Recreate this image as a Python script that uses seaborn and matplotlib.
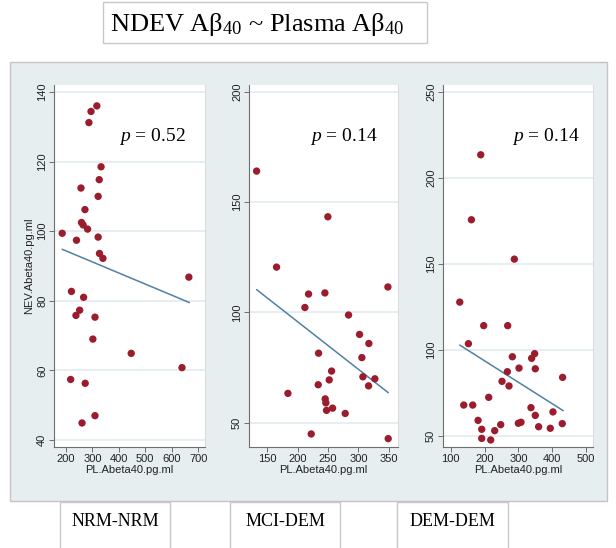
import numpy as np
import pandas as pd
import seaborn as sns
import matplotlib.pyplot as plt
from matplotlib.patches import Rectangle

# NRM-NRM
nrm_x = [317, 295, 287, 333, 326, 257, 322, 272, 259, 265, 282, 186, 240, 322, 327,
         340, 665, 221, 267, 252, 238, 310, 302, 447, 639, 218, 273, 310, 261]
nrm_y = [136.0, 134.4, 131.2, 118.5, 114.8, 112.4, 110.0, 106.2, 102.5, 101.8, 100.6, 99.4,
         97.4, 98.3, 93.6, 92.2, 86.8, 82.7, 81.0, 77.3, 75.8, 75.3, 69.0, 64.9, 60.8,
         57.4, 56.3, 47.0, 44.9]
nrm_fit_x = [186, 667]
nrm_fit_y = [94.8, 79.5]

# MCI-DEM
mci_x = [132.5, 249.7, 165.3, 348.4, 217.9, 244.8, 211.9, 283.7, 301.8, 317.1, 234.4, 305.6,
         255.8, 307.3, 327.0, 251.9, 233.8, 316.6, 184.0, 245.3, 246.4, 257.4, 247.5, 278.2,
         222.3, 348.9]
mci_y = [164.0, 143.3, 120.5, 111.5, 108.3, 108.8, 102.2, 98.8, 90.0, 85.9, 81.5, 79.5,
         73.4, 70.8, 69.9, 69.4, 67.2, 66.7, 63.3, 60.8, 59.0, 56.6, 55.6, 54.2, 44.9, 42.8]
mci_fit_x = [132.5, 349]
mci_fit_y = [110.3, 63.6]

# DEM-DEM
dem_x = [188.7, 161.1, 288.2, 126.6, 197.5, 268.5, 152.2, 282.3, 348.3, 339.4, 302.0, 350.2,
         267.5, 431.0, 251.7, 272.4, 212.3, 138.4, 165.0, 337.4, 402.5, 350.2, 300.0, 307.9,
         430.0, 247.8, 180.8, 360.1, 394.6, 191.6, 230.0, 191.6, 218.2]
dem_y = [213.4, 175.6, 152.7, 127.7, 114.0, 114.0, 103.5, 95.9, 97.7, 95.0, 89.3, 88.9,
         87.2, 83.9, 81.6, 78.9, 72.3, 67.8, 67.8, 66.3, 63.8, 61.8, 57.2, 57.8, 57.0,
         56.4, 58.9, 55.2, 54.3, 53.7, 52.9, 48.4, 47.5]
dem_fit_x = [126.6, 433]
dem_fit_y = [102.7, 64.5]

groups = ["NRM-NRM", "MCI-DEM", "DEM-DEM"]
p_values = ["0.52", "0.14", "0.14"]

sns.set_style("white")
plt.rcParams['font.family'] = ['Liberation Sans', 'DejaVu Sans']
plt.rcParams['mathtext.fontset'] = 'custom'
plt.rcParams['mathtext.rm'] = 'Liberation Serif'
plt.rcParams['mathtext.it'] = 'Liberation Serif:italic'

W, H = 616, 548
fig = plt.figure(figsize=(W / 100, H / 100), dpi=100)

def fx(px):
    return px / W

def fy(py):
    return 1 - py / H

def box(x0, y0, x1, y1, fc, ec):
    fig.patches.append(Rectangle((fx(x0), fy(y1)), (x1 - x0) / W, (y1 - y0) / H,
                                 transform=fig.transFigure, facecolor=fc, edgecolor=ec,
                                 lw=1, zorder=-1))

# outer graph region
box(10, 62, 607, 501, "#e6eef0", "#c4c4c4")
# title box
box(103, 2, 427, 43, "white", "#c8c8c8")
fig.text(fx(257), fy(25), r"NDEV A$\mathrm{\beta}_{40}$ ~ Plasma A$\mathrm{\beta}_{40}$",
         family="Liberation Serif", fontsize=19, color="black", ha="center", va="center")

panels = [
    (nrm_x, nrm_y, nrm_fit_x, nrm_fit_y, 54, 205, (155, 726), (38, 142),
     range(200, 701, 100), range(40, 141, 20), 0.649),
    (mci_x, mci_y, mci_fit_x, mci_fit_y, 249, 398, (120, 365), (39, 203),
     range(150, 351, 50), range(50, 201, 50), 0.638),
    (dem_x, dem_y, dem_fit_x, dem_fit_y, 443, 593, (77, 521), (43.4, 254),
     range(100, 501, 100), range(50, 251, 50), 0.685),
]

box_x = [(60, 170), (230, 340), (397, 508)]

for i, (x, y, fxs, fys, left, right, xlim, ylim, xt, yt, px) in enumerate(panels):
    ax = fig.add_axes([fx(left), fy(447), (right - left) / W, (447 - 85) / H])
    ax.set_zorder(1)
    ax.set_facecolor("white")
    ax.set_yticks(list(yt))
    ax.set_xticks(list(xt))
    ax.grid(axis="y", color="#e4edf0", lw=1.3)
    ax.set_axisbelow(True)
    df = pd.DataFrame({"x": x, "y": y})
    sns.scatterplot(data=df, x="x", y="y", ax=ax, color="#9b1c2c", s=28,
                    edgecolor="none", zorder=3)
    sns.lineplot(x=fxs, y=fys, ax=ax, color="#4f80a6", lw=1.1, zorder=2)
    ax.set_xlim(*xlim)
    ax.set_ylim(*ylim)
    ax.spines["top"].set_visible(False)
    ax.spines["right"].set_color("#dcdcdc")
    ax.spines["right"].set_linewidth(0.8)
    for s in ["left", "bottom"]:
        ax.spines[s].set_color("#6e6e6e")
        ax.spines[s].set_linewidth(0.8)
    ax.tick_params(axis="both", direction="out", length=3.5, width=0.7, color="#6e6e6e",
                   labelsize=8, labelcolor="#222222", pad=1.5, left=True, bottom=True)
    plt.setp(ax.get_yticklabels(), rotation=90, va="center")
    ax.set_xlabel("PL.Abeta40.pg.ml", fontsize=8, color="#222222", labelpad=1)
    ax.set_ylabel("NEV.Abeta40.pg.ml" if i == 0 else "", fontsize=8, color="#222222")
    ax.yaxis.set_label_coords((34 - left) / (right - left), 0.5)
    ax.text(px, 0.859, f"$p$ = {p_values[i]}", transform=ax.transAxes, fontsize=14,
            family="Liberation Serif", color="black", ha="center", va="center")

    bx0, bx1 = box_x[i]
    box(bx0, 502, bx1, 560, "white", "#c8c8c8")
    fig.text(fx((bx0 + bx1) / 2), fy(522), groups[i], family="Liberation Serif",
             fontsize=13, color="black", ha="center", va="center")

fig.savefig("out.png", dpi=100)
